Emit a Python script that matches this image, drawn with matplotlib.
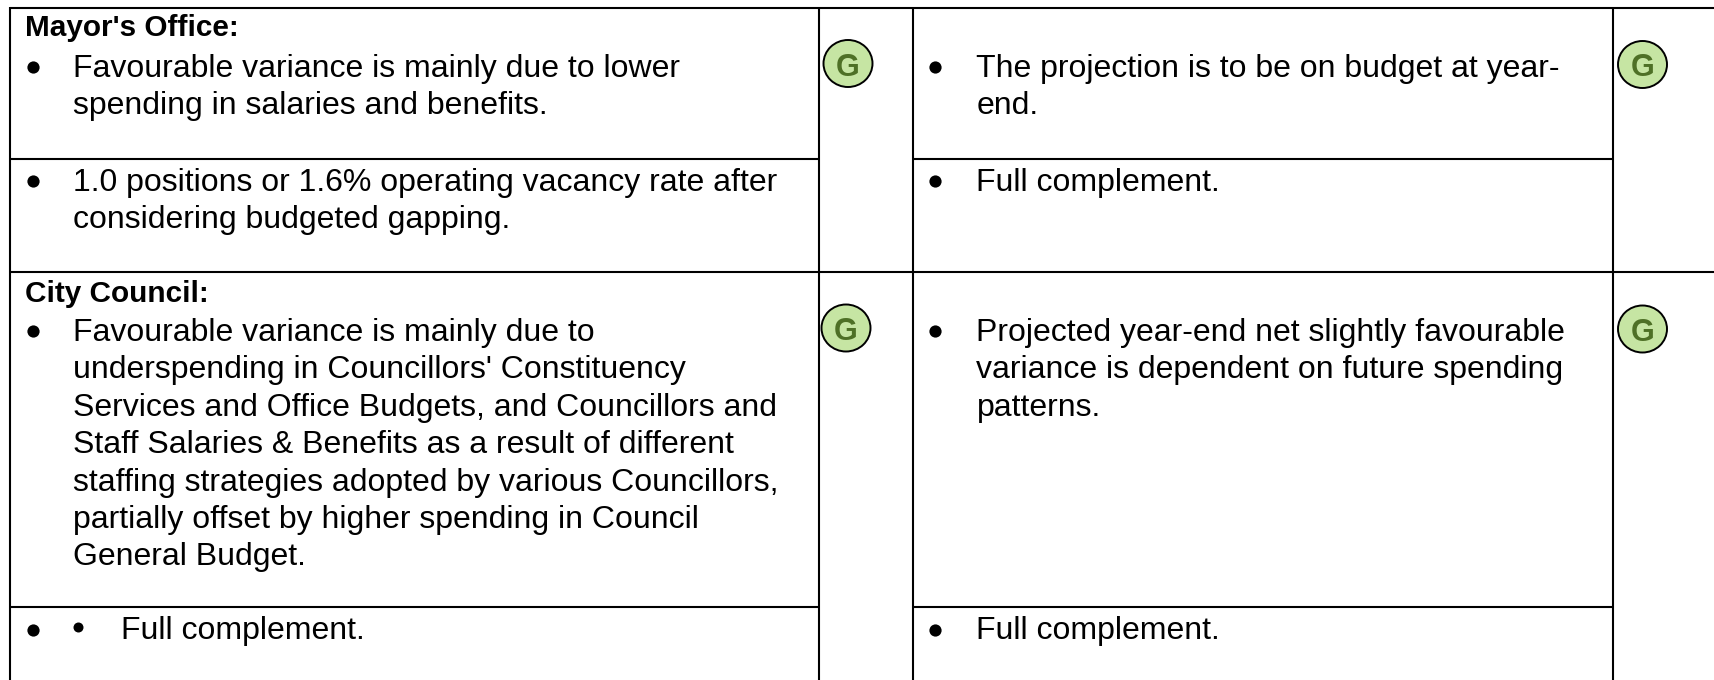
import matplotlib
matplotlib.use('Agg')
from matplotlib import pyplot as plt
from matplotlib.patches import Ellipse

W, H = 1714, 680

# table text, one list per cell, one string per printed line
mayor_title = "Mayor's Office:"
mayor_variance = ["Favourable variance is mainly due to lower", "spending in salaries and benefits."]
mayor_vacancy = ["1.0 positions or 1.6% operating vacancy rate after", "considering budgeted gapping."]
mayor_projection = ["The projection is to be on budget at year-", "end."]
mayor_staff = ["Full complement."]
council_title = "City Council:"
council_variance = ["Favourable variance is mainly due to",
                    "underspending in Councillors' Constituency",
                    "Services and Office Budgets, and Councillors and",
                    "Staff Salaries & Benefits as a result of different",
                    "staffing strategies adopted by various Councillors,",
                    "partially offset by higher spending in Council",
                    "General Budget."]
council_vacancy = ["Full complement."]
council_projection = ["Projected year-end net slightly favourable",
                      "variance is dependent on future spending",
                      "patterns."]
council_staff = ["Full complement."]
status_label = "G"

FS = 23
FS_BOLD = 21.4
LINE = 37.4
BULLET_L, TEXT_L = 33, 73.5
BULLET_R, TEXT_R = 935.5, 976.5

plt.rcParams['font.family'] = ['Liberation Sans', 'DejaVu Sans']
fig = plt.figure(figsize=(W / 100, H / 100), dpi=100)
ax = fig.add_axes([0, 0, 1, 1])
ax.set_xlim(0, W)
ax.set_ylim(H, 0)
ax.axis('off')


def hline(y, x0, x1):
    ax.plot([x0, x1], [y, y], color='black', lw=1.5, solid_capstyle='butt')


def vline(x, y0, y1):
    ax.plot([x, x], [y0, y1], color='black', lw=1.5, solid_capstyle='butt')


def bullets(lines, y, bx, tx):
    ax.plot(bx, y - 10, 'o', color='black', ms=8.8, mew=0)
    for i, s in enumerate(lines):
        ax.text(tx, y + i * LINE, s, fontsize=FS, va='baseline', ha='left', color='black')


def badge(cx, cy):
    ax.add_patch(Ellipse((cx, cy), 49, 47, fc='#c6e5a3', ec='black', lw=1.4, zorder=3))
    ax.text(cx, cy + 12, status_label, fontsize=22, fontweight='bold', color='#4e7026',
            ha='center', va='baseline', zorder=4)


hline(8, 10, W)
hline(272, 10, W)
hline(158.5, 10, 819)
hline(158.5, 913, 1613)
hline(607, 10, 819)
hline(607, 913, 1613)
for x in (10, 819.5, 913.5, 1613.5):
    vline(x, 7, H)

ax.text(25, 36.5, mayor_title, fontsize=FS_BOLD, fontweight='bold', va='baseline')
bullets(mayor_variance, 77, BULLET_L, TEXT_L)
bullets(mayor_vacancy, 191, BULLET_L, TEXT_L)
bullets(mayor_projection, 77, BULLET_R, TEXT_R)
bullets(mayor_staff, 191, BULLET_R, TEXT_R)

ax.text(25, 302, council_title, fontsize=FS_BOLD, fontweight='bold', va='baseline')
bullets(council_variance, 341, BULLET_L, TEXT_L)
bullets(council_projection, 341, BULLET_R, TEXT_R)
bullets(council_staff, 639.5, BULLET_R, TEXT_R)
bullets(council_vacancy, 639.5, BULLET_L, 121.5)
ax.plot(78, 626.5, 'o', color='black', ms=7.2, mew=0)

badge(848, 63.5)
badge(1642.5, 64.5)
badge(846, 328)
badge(1642.5, 329)

fig.savefig('out.png', dpi=100)
